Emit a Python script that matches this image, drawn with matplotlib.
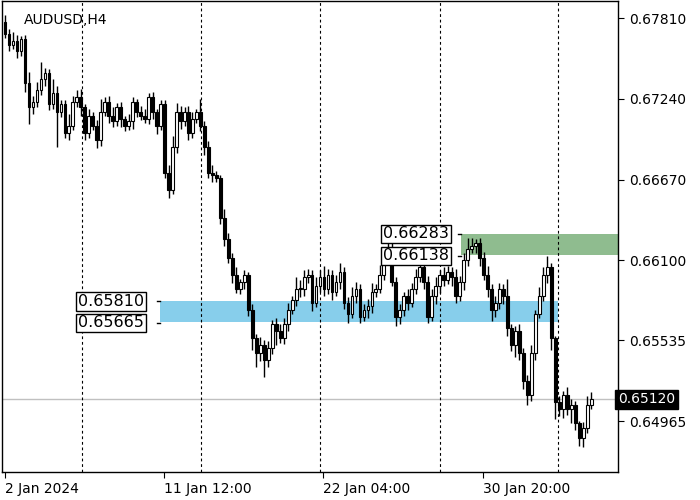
import matplotlib
matplotlib.use("Agg")
import matplotlib.pyplot as plt
import numpy as np

closes = [0.6770,0.6762,0.6765,0.6758,0.6766, 0.6735,0.6718,0.6722,0.6730,0.6738,
          0.6742,0.6720,0.6728,0.6715,0.6720, 0.6700,0.6705,0.6722,0.6725,0.6718,
          0.6700,0.6712,0.6705,0.6695,0.6715, 0.6722,0.6712,0.6708,0.6718,0.6710,
          0.6705,0.6708,0.6722,0.6715,0.6712, 0.6710,0.6725,0.6715,0.6705,0.6720,
          0.6672,0.6660,0.6690,0.6715,0.6708, 0.6715,0.6700,0.6710,0.6715,0.6705,
          0.6690,0.6672,0.6670,0.6668,0.6640, 0.6625,0.6612,0.6600,0.6590,0.6595,
          0.6600,0.6575,0.6555,0.6545,0.6550, 0.6540,0.6548,0.6565,0.6560,0.6555,
          0.6565,0.6575,0.6582,0.6590,0.6590, 0.6598,0.6600,0.6580,0.6592,0.6598,
          0.6590,0.6600,0.6588,0.6595,0.6602, 0.6580,0.6572,0.6585,0.6590,0.6570,
          0.6575,0.6578,0.6588,0.6590,0.6600, 0.6612,0.6618,0.6595,0.6570,0.6575,
          0.6585,0.6580,0.6590,0.6598,0.6605, 0.6595,0.6570,0.6585,0.6592,0.6600,
          0.6596,0.6602,0.6598,0.6585,0.6595, 0.6610,0.6618,0.6620,0.6622,0.6612,
          0.6600,0.6590,0.6575,0.6580,0.6590, 0.6585,0.6562,0.6550,0.6560,0.6545,
          0.6525,0.6515,0.6545,0.6572,0.6585, 0.6600,0.6605,0.6555,0.6510,0.6505,
          0.6515,0.6505,0.6508,0.6495,0.6485, 0.6492,0.6508,0.6512]
first_open = 0.6778
up_wick_pips = [5,3,6,4,2, 3,8,4,6,12, 4,3,10,5,3, 3,8,4,5,6,
                2,5,3,4,9, 3,4,6,3,4, 2,5,3,2,4, 5,3,4,2,3,
                3,5,8,6,4, 3,4,5,2,9, 3,4,5,3,2, 6,4,3,5,2,
                3,2,4,3,6, 4,5,3,4,5, 4,5,3,8,6, 5,4,3,6,5,
                8,4,3,5,6, 3,4,6,5,3, 4,5,6,3,7, 5,8,6,3,4,
                3,5,4,6,5, 3,4,5,6,3, 5,4,3,6,4, 5,8,6,3,4,
                4,6,3,5,4, 3,12,3,4,5, 3,4,5,3,6, 5,8,3,2,4,
                3,6,4,3,2, 4,6,5]
dn_wick_pips = [3,4,3,5,4, 6,12,5,4,3, 5,4,3,25,4, 4,5,3,4,6,
                5,4,3,6,4, 3,5,4,3,6, 4,3,5,4,3, 3,4,5,6,3,
                4,6,3,4,5, 3,5,4,3,4, 6,4,5,3,4, 5,4,6,3,4,
                5,4,8,10,6, 12,5,4,10,3, 4,5,3,4,6, 5,4,6,3,4,
                5,4,6,3,5, 4,6,3,5,4, 3,6,5,4,3, 4,5,3,6,5,
                4,5,3,4,3, 5,4,3,6,5, 4,3,6,5,4, 6,4,3,5,6,
                4,6,8,5,4, 6,5,4,8,5, 6,7,4,5,3, 4,6,8,12,5,
                6,4,10,5,6, 7,4,3]
ytick_vals = [0.67810, 0.67240, 0.66670, 0.66100, 0.65535, 0.64965]
date_labels = ["2 Jan 2024", "11 Jan 12:00", "22 Jan 04:00", "30 Jan 20:00"]
date_pos = [0, 39.75, 79.75, 119.75]
grid_pos = [19.25, 49.25, 79, 109, 138.75]
demand_zone = (0.65810, 0.65665)
supply_zone = (0.66283, 0.66138)
last_price = 0.65120

n = len(closes)
opens = [first_open] + closes[:-1]
highs = [max(o, c) + u * 1e-4 for o, c, u in zip(opens, closes, up_wick_pips)]
lows = [min(o, c) - d * 1e-4 for o, c, d in zip(opens, closes, dn_wick_pips)]

fig = plt.figure(figsize=(7, 5), dpi=100)
ax = fig.add_axes([0.003, 0.056, 0.88, 0.942])
ax.set_xlim(-0.75, 153.75)
ax.set_ylim(0.64607, 0.67930)

ax.fill_between([38.75, 138.75], demand_zone[1], demand_zone[0], color='#87ceeb', lw=0, zorder=0)
ax.fill_between([114.25, 153.75], supply_zone[1], supply_zone[0], color='#8fbc8f', lw=0, zorder=0)

for g in grid_pos:
    ax.axvline(g, color='black', ls=(0, (2.5, 2.5)), lw=0.8, zorder=0.5)
ax.axhline(last_price, color='#c0c0c0', lw=1, zorder=0.4)

x = np.arange(n)
ax.vlines(x, lows, highs, color='black', lw=1, zorder=1)
for i in range(n):
    o, c = opens[i], closes[i]
    bottom = min(o, c)
    h = max(abs(c - o), 0.00003)
    face = 'white' if c >= o else 'black'
    ax.bar(i, h, bottom=bottom, width=0.7, color=face, edgecolor='black', lw=0.8, zorder=2)

def boxlabel(xl, xr, y, text, xline_end):
    ax.text(xl, y, text, fontsize=11.5, va='center', ha='left', zorder=5,
            bbox=dict(boxstyle='square,pad=0.1', fc='white', ec='black', lw=1))
    ax.plot([xr, xline_end], [y, y], color='black', lw=1, zorder=4)

boxlabel(18.3, 38.0, demand_zone[0], "0.65810", 38.75)
boxlabel(18.3, 38.0, demand_zone[1] - 0.00005, "0.65665", 38.75)
boxlabel(94.8, 113.5, supply_zone[0] + 0.00005, "0.66283", 114.25)
boxlabel(94.8, 113.5, supply_zone[1] - 0.00005, "0.66138", 114.25)

ax.text(0.035, 0.975, "AUDUSD,H4", transform=ax.transAxes, fontsize=10, va='top', ha='left')

ax.yaxis.tick_right()
ax.set_yticks(ytick_vals)
ax.set_yticklabels([f"{v:.5f}" for v in ytick_vals], fontsize=10)
ax.tick_params(axis='y', length=4, direction='out', pad=4)
ax.set_xticks(date_pos)
ax.set_xticklabels(date_labels, fontsize=10, ha='left')
ax.tick_params(axis='x', length=4, pad=3)
ax.text(1.0, last_price, f"{last_price:.5f}", transform=ax.get_yaxis_transform(), fontsize=10,
        color='white', va='center', ha='left',
        bbox=dict(boxstyle='square,pad=0.2', fc='black', ec='black'))
for s in ax.spines.values():
    s.set_linewidth(1)

fig.savefig("out.png", dpi=100)
